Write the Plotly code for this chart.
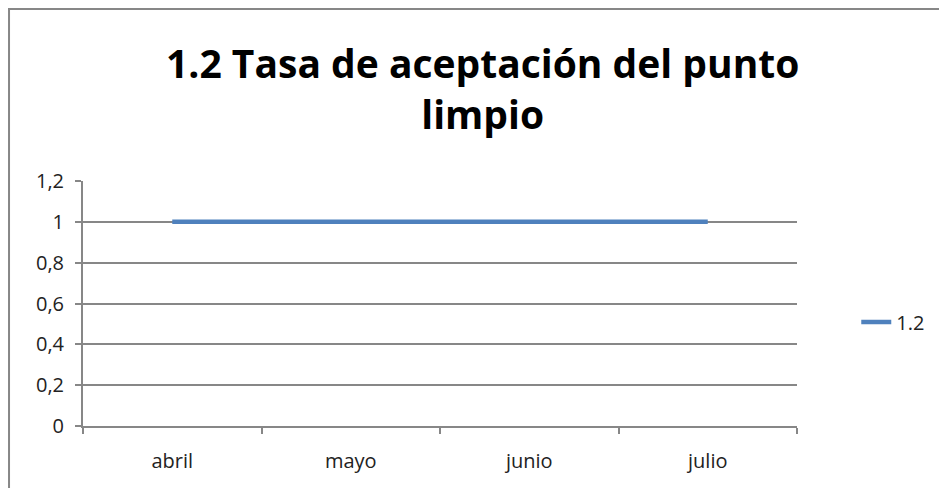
import plotly.graph_objects as go

meses = ["abril", "mayo", "junio", "julio"]
tasa_12 = [1, 1, 1, 1]
y_ticks = [0, 0.2, 0.4, 0.6, 0.8, 1.0, 1.2]

GRIS = "#878787"

fig = go.Figure()
fig.add_trace(go.Scatter(
    x=meses,
    y=tasa_12,
    name="1.2",
    mode="lines",
    line=dict(color="#4F81BD", width=4.5),
))

fig.update_layout(
    width=947,
    height=488,
    paper_bgcolor="white",
    plot_bgcolor="white",
    separators=",.",
    font=dict(family="Open Sans, sans-serif", size=20, color="#222"),
    margin=dict(l=75, r=158, t=173, b=70),
    showlegend=True,
    legend=dict(
        x=1.083, y=0.4245, xanchor="left", yanchor="middle",
        font=dict(size=20, color="#222"),
        bgcolor="rgba(0,0,0,0)",
    ),
    # marco del gráfico
    shapes=[dict(
        type="rect", xref="paper", yref="paper",
        x0=-0.1036, x1=1.3, y0=-0.5, y1=1.702,
        line=dict(color=GRIS, width=2), fillcolor="rgba(0,0,0,0)",
        layer="below",
    )],
    annotations=[dict(
        text="<b>1.2 Tasa de aceptación del punto<br>limpio</b>",
        xref="paper", yref="paper", x=0.56, y=1.38,
        xanchor="center", yanchor="middle", showarrow=False,
        font=dict(size=39, color="#000"),
    )],
)

fig.update_xaxes(
    type="category",
    range=[-0.5, 3.5],
    tickson="boundaries",
    ticks="outside", ticklen=6, tickcolor=GRIS, tickwidth=1.5,
    showline=True, linecolor=GRIS, linewidth=2,
    showgrid=False,
    ticklabelstandoff=16,
)
fig.update_yaxes(
    range=[0, 1.2],
    tickvals=y_ticks,
    ticks="outside", ticklen=6, tickcolor=GRIS, tickwidth=1.5,
    showline=True, linecolor=GRIS, linewidth=2,
    showgrid=True, gridcolor=GRIS, gridwidth=1.5,
    zeroline=False,
    ticklabelstandoff=7,
)

fig.write_html("out.html")
